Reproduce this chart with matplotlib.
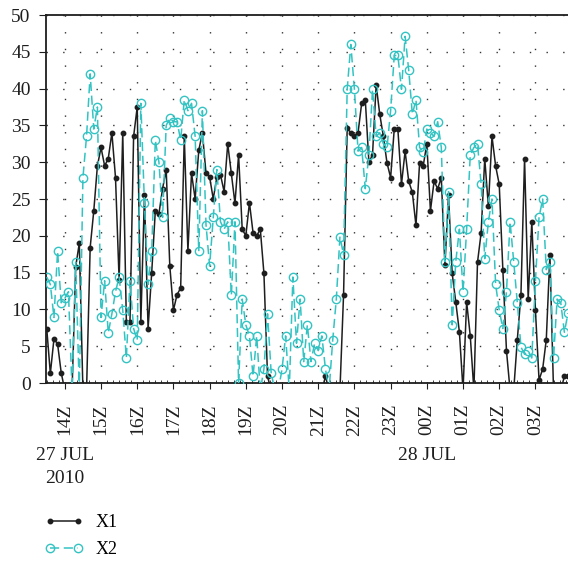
import numpy as np
import pandas as pd
import matplotlib
matplotlib.use("Agg")
import matplotlib.pyplot as plt
import matplotlib.dates as mdates
from matplotlib.transforms import blended_transform_factory

plt.rcParams['font.family'] = ['Liberation Serif', 'DejaVu Serif']

# 6-minute samples starting 27 Jul 2010 13:30Z (values below 0 are clipped by the axis)
times = pd.date_range('2010-07-27 13:30', periods=145, freq='6min')

x1 = [7.4, 1.3, 6.0, 5.3, 1.4, -1, -1, -1, 15.8, 19.0,
      -1, -1, 18.4, 23.4, 29.5, 32.0, 29.5, 30.5, 34.0, 27.9,
      14.0, 34.0, 8.3, 8.3, 33.5, 37.5, 8.3, 25.5, 7.4, 15.0,
      23.4, 23.0, 26.4, 29.0, 15.9, 9.9, 12.0, 12.9, 33.5, 17.9,
      28.5, 25.0, 31.6, 34.0, 28.5, 28.0, 25.0, 28.0, 28.3, 26.0,
      32.5, 28.5, 24.4, 31.0, 20.9, 20.0, 24.5, 20.4, 20.0, 20.9,
      14.9, 0.9, -1, -1, -1, -1, -1, -1, -1, -1,
      -1, -1, -1, -1, -1, -1, -1, 0.9, -1, -1,
      -1, -1, 12.0, 34.6, 34.0, 33.5, 34.0, 38.0, 38.5, 30.0,
      31.0, 40.5, 36.5, 33.5, 29.9, 27.9, 34.5, 34.5, 27.0, 31.5,
      27.4, 25.9, 21.4, 29.9, 29.5, 32.5, 23.4, 27.4, 26.4, 27.9,
      16.0, 25.5, 14.9, 11.0, 6.9, -1, 11.0, 6.4, -1, 16.4,
      20.4, 30.5, 24.0, 33.5, 29.5, 27.0, 15.4, 4.4, -1, -1,
      5.9, 12.0, 30.5, 11.4, 21.9, 9.9, 0.4, 1.9, 5.9, 17.4,
      -1, -1, -1, 0.9, 1.0]

x2 = [14.4, 13.4, 8.9, 17.9, 10.9, 11.5, 12.4, -1, 16.4, -1,
      27.9, 33.5, 42.0, 34.5, 37.5, 8.9, 13.9, 6.8, 9.4, 12.4,
      14.4, 9.9, 3.4, 13.9, 7.4, 5.8, 38.0, 24.4, 13.4, 17.9,
      33.0, 30.0, 22.5, 35.0, 36.0, 35.5, 35.5, 33.0, 38.5, 37.0,
      38.0, 33.5, 17.9, 37.0, 21.5, 15.9, 22.5, 29.0, 21.9, 20.9,
      21.9, 11.9, 21.9, 0.0, 11.4, 7.9, 6.4, 0.9, 6.4, -1,
      1.9, 9.4, 1.4, -1, -1, 1.9, 6.4, -1, 14.4, 5.4,
      11.4, 2.9, 7.9, 2.9, 5.4, 4.4, 6.4, 1.9, -1, 5.8,
      11.4, 19.9, 17.4, 39.9, 46.0, 39.9, 31.5, 32.0, 26.4, 31.0,
      39.9, 33.5, 34.0, 32.5, 32.0, 37.0, 44.5, 44.5, 39.9, 47.1,
      42.5, 36.5, 38.5, 32.0, 31.4, 34.5, 34.0, 33.5, 35.5, 32.0,
      16.5, 26.0, 7.9, 16.5, 20.9, 12.4, 20.9, 31.0, 32.0, 32.5,
      27.0, 16.9, 21.9, 25.0, 13.4, 9.9, 7.4, 12.4, 21.9, 16.5,
      10.9, 4.9, 3.9, 4.3, 3.4, 13.9, 22.5, 25.0, 15.4, 16.5,
      3.4, 11.4, 10.9, 6.9, 9.5]

black = '#1e1e1e'
teal = '#34c3c3'

W, H = 568, 561
fig = plt.figure(figsize=(W / 100, H / 100), dpi=100)
# the reference is cropped at the right: the axes run just past the figure edge
ax = fig.add_axes([46 / W, (H - 383) / H, 524 / W, 368 / H])

l1, = ax.plot(times, x1, color=black, lw=1.1, marker='o', ms=3.2, label='X1', zorder=3)
l2, = ax.plot(times, x2, color=teal, lw=1.1, ls=(0, (6, 3)), marker='o', ms=6,
              mfc='none', mec=teal, mew=1.0, label='X2', zorder=4)

t0 = times[0] - pd.Timedelta(minutes=1.2)
ax.set_xlim(t0, t0 + pd.Timedelta(hours=524 / 36.2))
ax.set_ylim(0, 50)
ax.set_yticks(np.arange(0, 51, 5))

ax.xaxis.set_major_locator(mdates.HourLocator())
ax.xaxis.set_major_formatter(mdates.DateFormatter('%HZ'))
ax.xaxis.set_minor_locator(mdates.MinuteLocator(byminute=[10, 20, 30, 40, 50]))
plt.setp(ax.get_xticklabels(), rotation=90)

ax.tick_params(axis='both', which='major', labelsize=14, color=black, labelcolor=black)
ax.tick_params(axis='x', which='major', direction='out', length=4, pad=11)
ax.tick_params(axis='x', which='minor', direction='in', length=2, color=black)
ax.tick_params(axis='y', which='major', direction='out', length=5, pad=6)

ax.grid(True, which='major', color='#333333', lw=1.0, ls=(0, (1, 11)))

for s in ['left', 'top', 'bottom']:
    ax.spines[s].set_color(black)
    ax.spines[s].set_linewidth(1.3)
ax.spines['right'].set_visible(False)

tr = blended_transform_factory(ax.transData, ax.transAxes)
ax.text(mdates.date2num(pd.Timestamp('2010-07-27 14:00')), -0.175, '27 JUL\n2010',
        transform=tr, ha='center', va='top', fontsize=14, color=black, linespacing=1.4)
ax.text(mdates.date2num(pd.Timestamp('2010-07-28 00:00')), -0.175, '28 JUL',
        transform=tr, ha='center', va='top', fontsize=14, color=black)

fig.legend(handles=[l1, l2], loc='upper left', bbox_to_anchor=(36 / W, 1 - 505 / H),
           frameon=False, fontsize=13, handlelength=2.1, handletextpad=0.7,
           labelspacing=0.55, numpoints=2, borderpad=0)

fig.savefig('out.png', dpi=100)
